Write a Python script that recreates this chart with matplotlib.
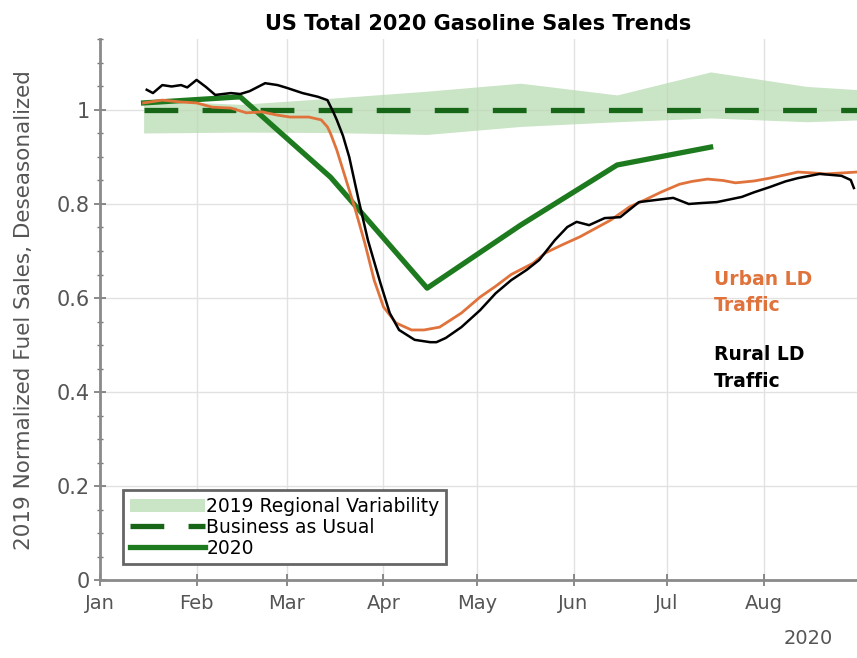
import numpy as np
import matplotlib
matplotlib.use("Agg")
import matplotlib.pyplot as plt
import matplotlib.dates as mdates
from matplotlib.ticker import MultipleLocator

# days counted from 2020-01-01
band_days = [14, 45, 74, 105, 135, 166, 196, 227, 244]
band_hi = [1.021, 1.012, 1.025, 1.040, 1.057, 1.032, 1.081, 1.050, 1.043]
band_lo = [0.951, 0.953, 0.952, 0.948, 0.965, 0.975, 0.983, 0.975, 0.979]

bau_days = [14, 244]
bau_vals = [1.0, 1.0]

g2020_days = [14, 45, 74, 105, 135, 166, 196]
g2020_vals = [1.015, 1.028, 0.857, 0.621, 0.755, 0.883, 0.921]

urban_days = [14, 17, 20, 23, 26, 31, 36, 42, 47, 52, 57, 61, 67, 71, 73, 74, 76,
              79, 82, 85, 88, 91, 95, 100, 104, 109, 116, 122, 127, 132, 139, 143,
              148, 154, 159, 164, 170, 175, 180, 186, 190, 195, 200, 204, 210, 215,
              220, 224, 229, 233, 238, 243]
urban_vals = [1.015, 1.018, 1.021, 1.019, 1.017, 1.015, 1.006, 1.004, 0.994, 0.996,
              0.989, 0.985, 0.985, 0.979, 0.964, 0.950, 0.915, 0.851, 0.787, 0.717,
              0.638, 0.581, 0.547, 0.532, 0.532, 0.538, 0.568, 0.602, 0.625, 0.650,
              0.674, 0.696, 0.712, 0.730, 0.748, 0.766, 0.794, 0.809, 0.825, 0.842,
              0.848, 0.853, 0.850, 0.845, 0.849, 0.855, 0.862, 0.868, 0.866, 0.864,
              0.866, 0.868]

rural_days = [15, 17, 20, 23, 26, 28, 31, 34, 37, 42, 45, 48, 53, 57, 60, 65, 70,
              73, 75, 76, 78, 80, 83, 86, 90, 93, 96, 101, 106, 108, 111, 116, 122,
              127, 132, 137, 141, 146, 150, 153, 157, 162, 167, 173, 179, 184, 189,
              193, 198, 206, 210, 215, 220, 224, 231, 238, 241, 242]
rural_vals = [1.043, 1.036, 1.053, 1.050, 1.053, 1.048, 1.064, 1.049, 1.032, 1.036,
              1.034, 1.040, 1.057, 1.053, 1.047, 1.036, 1.028, 1.021, 0.994, 0.979,
              0.945, 0.900, 0.809, 0.723, 0.632, 0.568, 0.532, 0.511, 0.506, 0.506,
              0.515, 0.538, 0.574, 0.610, 0.638, 0.660, 0.681, 0.723, 0.751, 0.762,
              0.755, 0.770, 0.772, 0.804, 0.809, 0.813, 0.800, 0.802, 0.804, 0.815,
              0.825, 0.836, 0.848, 0.855, 0.864, 0.860, 0.851, 0.834]

start = np.datetime64("2020-01-01")


def to_dates(days):
    return start + np.array(days, dtype="timedelta64[D]")


plt.rcParams["font.family"] = "DejaVu Sans"
fig = plt.figure(figsize=(8.57, 6.58), dpi=100)
ax = fig.add_axes([0.1167, 0.1185, 0.8833, 0.8215])

green = "#1e7a1e"
dark_green = "#176617"
orange = "#e0733c"
gray = "#555555"

ax.fill_between(to_dates(band_days), band_lo, band_hi, color="#b9dbb3",
                alpha=0.75, lw=0, label="2019 Regional Variability", zorder=2)
ax.plot(to_dates(bau_days), bau_vals, color=dark_green, lw=3.8,
        ls=(0, (6.4, 4.6)), label="Business as Usual", zorder=3)
ax.plot(to_dates(g2020_days), g2020_vals, color=green, lw=3.8,
        label="2020", zorder=4)
ax.plot(to_dates(urban_days), urban_vals, color=orange, lw=2.0, zorder=5)
ax.plot(to_dates(rural_days), rural_vals, color="black", lw=1.8, zorder=6)

ax.set_xlim(start, start + np.timedelta64(243, "D"))
ax.set_ylim(0, 1.15)
ax.xaxis.set_major_locator(mdates.MonthLocator())
ax.xaxis.set_major_formatter(mdates.DateFormatter("%b"))
ax.yaxis.set_major_locator(MultipleLocator(0.2))
ax.yaxis.set_minor_locator(MultipleLocator(0.05))
ax.set_yticks([0, 0.2, 0.4, 0.6, 0.8, 1.0])
ax.set_yticklabels(["0", "0.2", "0.4", "0.6", "0.8", "1"])

ax.grid(True, color="#e2e2e2", lw=1)
for s in ["top", "right"]:
    ax.spines[s].set_visible(False)
for s in ["left", "bottom"]:
    ax.spines[s].set_color("#8a8a8a")
    ax.spines[s].set_linewidth(2)
ax.tick_params(axis="both", which="both", colors="#777777", labelcolor=gray,
               labelsize=14, direction="inout")
ax.tick_params(axis="y", labelsize=15)
ax.tick_params(axis="both", which="major", length=8, width=1.2)
ax.tick_params(axis="y", which="minor", length=5, width=1)
ax.tick_params(axis="x", which="major", pad=6)

ax.set_ylabel("2019 Normalized Fuel Sales, Deseasonalized", fontsize=15.5,
              color=gray, labelpad=16)
ax.set_title("US Total 2020 Gasoline Sales Trends", fontsize=15,
             fontweight="bold", pad=7)
ax.text(0.935, -0.108, "2020", transform=ax.transAxes, fontsize=14,
        color=gray, ha="center", va="center")

ax.text(start + np.timedelta64(197, "D"), 0.66, "Urban LD\nTraffic",
        color=orange, fontsize=13.5, fontweight="bold", va="top", linespacing=1.5)
ax.text(start + np.timedelta64(197, "D"), 0.50, "Rural LD\nTraffic",
        color="black", fontsize=13.5, fontweight="bold", va="top", linespacing=1.5)

leg = ax.legend(loc="lower left", bbox_to_anchor=(0.018, 0.012), fontsize=13.5,
                handlelength=4.0, handletextpad=0.1, borderpad=0.35,
                labelspacing=0.1, fancybox=False, framealpha=1)
leg.get_frame().set_edgecolor("#666666")
leg.get_frame().set_linewidth(2)

fig.savefig("out.png", dpi=100)
